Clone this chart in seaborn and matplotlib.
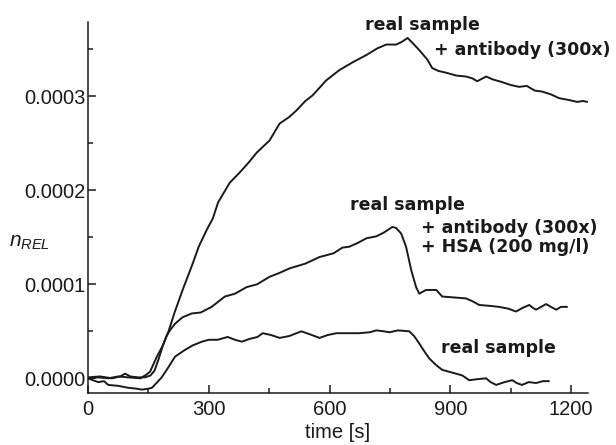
import matplotlib
matplotlib.use("Agg")
import matplotlib.pyplot as plt
import seaborn as sns
import pandas as pd
from matplotlib.ticker import MultipleLocator, FuncFormatter

# ---- data (n_REL values in units of 1e-4) ----
t_ab = [0, 25, 50, 75, 100, 130, 145, 154, 171, 186, 200, 215, 235, 260, 275, 295, 310, 323,
        352, 377, 400, 419, 451, 476, 500, 518, 540, 558, 592, 625, 657, 692, 719, 741, 766,
        780, 794, 810, 823, 843, 855, 870, 890, 915, 939, 955, 967, 989, 1005, 1029, 1050,
        1071, 1090, 1110, 1128, 1150, 1170, 1195, 1215, 1230, 1240]
n_ab = [0.0, 0.01, 0.0, 0.02, 0.01, 0.0, 0.04, 0.07, 0.23, 0.35, 0.5, 0.7, 0.94, 1.22, 1.40,
        1.58, 1.70, 1.87, 2.08, 2.19, 2.3, 2.4, 2.53, 2.71, 2.78, 2.85, 2.95, 3.01, 3.17, 3.28,
        3.36, 3.44, 3.51, 3.55, 3.55, 3.58, 3.62, 3.55, 3.49, 3.39, 3.30, 3.27, 3.25, 3.22,
        3.21, 3.19, 3.16, 3.21, 3.18, 3.15, 3.12, 3.10, 3.11, 3.06, 3.05, 3.02, 2.98, 2.96,
        2.94, 2.95, 2.94]

t_hsa = [0, 30, 60, 80, 92, 105, 125, 141, 155, 165, 175, 186, 195, 205, 216, 235, 258, 280,
         307, 340, 365, 394, 420, 451, 475, 501, 540, 575, 610, 632, 649, 670, 692, 716, 735,
         756, 765, 778, 790, 803, 815, 823, 831, 840, 865, 880, 910, 939, 955, 972, 1000,
         1021, 1045, 1063, 1080, 1096, 1105, 1113, 1138, 1150, 1163, 1175, 1190]
n_hsa = [0.01, 0.02, 0.0, 0.02, 0.05, 0.02, 0.01, 0.01, 0.03, 0.08, 0.2, 0.35, 0.45, 0.52,
         0.58, 0.65, 0.69, 0.7, 0.76, 0.87, 0.9, 0.97, 1.0, 1.08, 1.12, 1.17, 1.22, 1.29,
         1.33, 1.39, 1.40, 1.44, 1.49, 1.51, 1.55, 1.61, 1.60, 1.54, 1.40, 1.15, 0.97, 0.90,
         0.92, 0.94, 0.94, 0.87, 0.86, 0.85, 0.82, 0.78, 0.77, 0.76, 0.74, 0.71, 0.75, 0.78,
         0.75, 0.73, 0.79, 0.76, 0.73, 0.76, 0.76]

t_rs = [0, 25, 40, 50, 75, 99, 120, 134, 150, 159, 170, 183, 200, 216, 240, 260, 283, 300,
        322, 347, 365, 382, 402, 421, 434, 455, 476, 500, 530, 550, 575, 595, 617, 650, 674,
        700, 716, 735, 749, 770, 798, 810, 823, 835, 848, 865, 880, 914, 930, 947, 965, 989,
        1000, 1014, 1035, 1054, 1065, 1078, 1095, 1113, 1130, 1145]
n_rs = [0.0, -0.04, -0.03, -0.07, -0.08, -0.10, -0.11, -0.12, -0.11, -0.10, -0.05, 0.01,
        0.12, 0.23, 0.30, 0.35, 0.39, 0.41, 0.41, 0.44, 0.41, 0.39, 0.42, 0.44, 0.48, 0.46,
        0.43, 0.45, 0.50, 0.47, 0.43, 0.46, 0.48, 0.48, 0.48, 0.49, 0.51, 0.50, 0.49, 0.51,
        0.50, 0.45, 0.37, 0.29, 0.21, 0.14, 0.09, 0.05, 0.03, -0.02, -0.01, 0.0, -0.04,
        -0.07, -0.04, -0.02, -0.05, -0.07, -0.04, -0.05, -0.03, -0.03]

series_names = ["antibody", "antibody+HSA", "real sample"]

frames = []
for name, t, n in zip(series_names, [t_ab, t_hsa, t_rs], [n_ab, n_hsa, n_rs]):
    frames.append(pd.DataFrame({"time": t, "nrel": [v * 1e-4 for v in n], "series": name}))
df = pd.concat(frames, ignore_index=True)

# ---- style ----
sns.set_style("ticks")
plt.rcParams["font.family"] = ["Liberation Sans", "DejaVu Sans"]
plt.rcParams["mathtext.fontset"] = "custom"
plt.rcParams["mathtext.it"] = "Liberation Sans:italic"
plt.rcParams["mathtext.rm"] = "Liberation Sans"

fig = plt.figure(figsize=(6.16, 4.45), dpi=100)
ax = fig.add_axes([0.1429, 0.1175, 0.8116, 0.8331])

sns.lineplot(data=df, x="time", y="nrel", hue="series", units="series", estimator=None,
             palette=["#1a1a1a"] * 3, linewidth=1.4, legend=False, sort=False, ax=ax)

ax.set_xlim(0, 1242)
ax.set_ylim(-0.153e-4, 3.79e-4)

ax.xaxis.set_major_locator(MultipleLocator(300))
ax.xaxis.set_minor_locator(MultipleLocator(150))
ax.yaxis.set_major_locator(MultipleLocator(0.0001))
ax.yaxis.set_minor_locator(MultipleLocator(0.00005))
ax.yaxis.set_major_formatter(FuncFormatter(lambda v, p: f"{v:.4f}"))

ax.tick_params(axis="both", which="major", direction="in", length=6, width=1.1,
               labelsize=14.5, colors="#1a1a1a")
ax.tick_params(axis="x", which="major", pad=5)
ax.tick_params(axis="y", which="major", pad=2)
ax.tick_params(axis="both", which="minor", direction="in", length=3.5, width=1.1,
               colors="#1a1a1a")
for s in ["top", "right"]:
    ax.spines[s].set_visible(False)
for s in ["left", "bottom"]:
    ax.spines[s].set_linewidth(1.1)
    ax.spines[s].set_color("#1a1a1a")

ax.set_xlabel("time [s]", fontsize=14.5, color="#1a1a1a", labelpad=3)
ax.set_ylabel("")
fig.text(0.015, 0.455, r"$\mathit{n}_{\mathit{REL}}$", fontsize=15, color="#1a1a1a",
         ha="left", va="center")

bold = dict(fontsize=12.5, fontweight="bold", family="DejaVu Sans", color="#1a1a1a",
            ha="left", va="center")
ax.text(687, 3.76e-4, "real sample", **bold)
ax.text(860, 3.49e-4, "+ antibody (300x)", **bold)
ax.text(650, 1.84e-4, "real sample", **bold)
ax.text(828, 1.60e-4, "+ antibody (300x)", **bold)
ax.text(828, 1.40e-4, "+ HSA (200 mg/l)", **bold)
ax.text(878, 0.32e-4, "real sample", **bold)

fig.savefig("out.png", dpi=100)
